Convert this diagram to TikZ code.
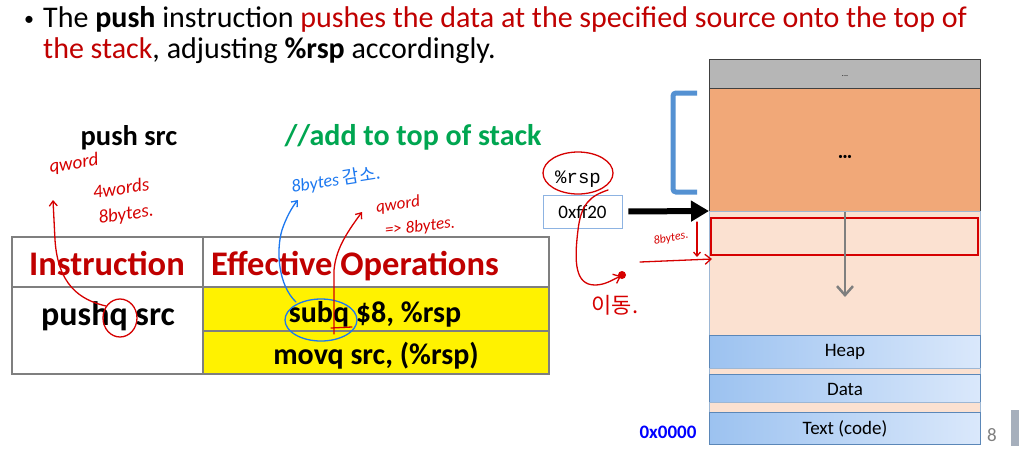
\documentclass[tikz,border=0pt]{standalone}
\usepackage{fontspec}
\setmainfont{Carlito}
\newfontfamily\monofont{Liberation Mono}
\newfontfamily\krfont{Noto Sans CJK KR}
\usetikzlibrary{arrows.meta}
\definecolor{darkred}{HTML}{C00000}
\definecolor{grn}{HTML}{00A651}
\definecolor{tgray}{HTML}{7F7F7F}
\definecolor{segorange}{HTML}{F1A878}
\definecolor{segpeach}{HTML}{FBE1D1}
\definecolor{seggray}{HTML}{B6B6B6}
\definecolor{blueL}{HTML}{9CC2F0}
\definecolor{blueR}{HTML}{DAE8FB}
\definecolor{blueedge}{HTML}{5B87B8}
\definecolor{brk}{HTML}{5491D2}
\definecolor{pen}{HTML}{D60000}
\definecolor{bluepen}{HTML}{1C78F0}
\definecolor{boxedge}{HTML}{8DB3E2}
\definecolor{barcol}{HTML}{A6AFBC}
\tikzset{
  fs/.style={font=\fontsize{#1}{#1}\selectfont},
  bfs/.style={font=\fontsize{#1}{#1}\selectfont\bfseries},
  tbl/.style={draw=tgray, line width=1.2pt},
  seg/.style={draw=black!75, line width=0.8pt},
  blueseg/.style={draw=blueedge, line width=1pt, left color=blueL, right color=blueR},
  penline/.style={draw=pen, line width=1.3pt, line cap=round, line join=round},
  bluepenline/.style={draw=bluepen, line width=1.3pt, line cap=round, line join=round},
  hand/.style={text=pen, font=\fontsize{#1}{#1}\selectfont\itshape, inner sep=0pt},
  bhand/.style={text=bluepen, font=\fontsize{#1}{#1}\selectfont\itshape, inner sep=0pt},
}
\begin{document}
\begin{tikzpicture}[x=1pt,y=-1pt]
\useasboundingbox[fill=white] (0,0) rectangle (1019,451);

% heading
\node[fs=20, anchor=base, inner sep=0pt] (bul) at (29,25) {•};
\node[fs=30, anchor=base west, inner sep=0pt] (l1) at (43,27) {The \textbf{push} instruction \textcolor{darkred}{pushes the data at the specified source onto the top of}};
\node[fs=30, anchor=base west, inner sep=0pt] (l2) at (43,58) {\textcolor{darkred}{the stack}, adjusting \textbf{\%rsp} accordingly.};

% push src line
\node[bfs=28.5, anchor=base, inner sep=0pt] (ps) at (129,145) {push src};
\node[bfs=30, anchor=base, inner sep=0pt, text=grn] (cm) at (413,145) {//add to top of stack};

% table
\draw[tbl] (12,237) rectangle (203,287);
\draw[tbl] (203,237) rectangle (549,287);
\draw[tbl] (12,287) rectangle (203,374);
\draw[tbl, fill=yellow] (203,287) rectangle (549,331);
\draw[tbl, fill=yellow] (203,331) rectangle (549,374);
\node[bfs=34.5, anchor=base, inner sep=0pt, text=darkred] (h1) at (107,275) {Instruction};
\node[bfs=34.5, anchor=base, inner sep=0pt, text=darkred] (h2) at (355,275) {Effective Operations};
\node[bfs=34, anchor=base, inner sep=0pt] (c1) at (108,325) {pushq src};
\node[bfs=30, anchor=base, inner sep=0pt] (c2) at (375,322) {subq \$8, \%rsp};
\node[bfs=30, anchor=base, inner sep=0pt] (c3) at (376,364) {movq src, (\%rsp)};

% memory column
\draw[draw=blueedge!50, line width=0.6pt] (709,59) rectangle (980,444);
\draw[seg, fill=seggray] (709,59) rectangle (980,88);
\node[fs=8, inner sep=0pt] (gdots) at (845,76) {...};
\draw[seg, fill=segorange] (709,88) rectangle (980,211);
\coordinate (orsw) at (709,211);
\node[fs=9, inner sep=0pt] (odots) at (845,157) {•••};
\draw[draw=blueedge!60, line width=0.6pt, fill=segpeach] (709,211) rectangle (980,335);
\draw[draw=pen, line width=1.6pt] (711,218) rectangle (978,255);
\coordinate (gtop) at (845,212);
\coordinate (gbot) at (845,297);
\draw[draw=tgray, line width=2.5pt, -{Straight Barb[length=9pt,width=16pt,line width=2.5pt]}] (gtop) -- (gbot);
\draw[blueseg] (709,335) rectangle (980,368);
\draw[draw=blueedge!60, line width=0.6pt, fill=segpeach] (709,368) rectangle (980,374);
\draw[blueseg] (709,374) rectangle (980,402);
\draw[draw=blueedge!60, line width=0.6pt, fill=segpeach] (709,402) rectangle (980,412);
\draw[blueseg] (709,412) rectangle (980,444);
\node[fs=19, inner sep=0pt] (heap) at (845,352) {Heap};
\node[fs=19, inner sep=0pt] (data) at (845,389) {Data};
\node[fs=19, inner sep=0pt] (text) at (845,429) {Text (code)};
\node[bfs=19, inner sep=0pt, text=blue] (addr) at (668,432) {0x0000};
\node[fs=19, inner sep=0pt, text=gray] (pg) at (992,435) {8};
\fill[barcol] (1011,410) rectangle (1019,446);

% bracket
\draw[draw=brk, line width=5pt, rounded corners=3pt] (697,93) -- (673,93) -- (673,192) -- (697,192);

% rsp
\node[font=\fontsize{19}{19}\selectfont\monofont, inner sep=0pt] (rsp) at (578,179) {\%rsp};
\node[draw=boxedge, line width=0.8pt, fill=white, minimum width=79pt, minimum height=33pt, inner sep=0pt, fs=19] (rspval) at (582.5,211.5) {0xff20};
\draw[line width=6pt, shorten <=6pt, -{Triangle[length=18pt,width=20pt]}] (rspval.east) -- (orsw);

% ---- handwritten annotations ----
% left red
\node[hand=19, rotate=8] (a1) at (74,164) {qword};
\node[hand=19, rotate=8] (a2) at (121,188) {4words};
\node[hand=19, rotate=8] (a3) at (126,215) {8bytes.};
\draw[penline] (120,318) ellipse [x radius=17, y radius=19];
\draw[penline, -{Straight Barb[length=5pt,width=8pt]}] (106,306) .. controls (80,300) and (58,285) .. (55,240) -- (53,200);

% blue middle
\node[bhand=18, rotate=9] (b1) at (336,180) {8bytes \krfont 감소.};
\draw[bluepenline] (321,320) ellipse [x radius=36, y radius=21];
\draw[bluepenline, -{Straight Barb[length=5pt,width=8pt]}] (296,302) .. controls (278,285) and (276,250) .. (282,230) .. controls (286,218) and (292,207) .. (298,200);

% red middle
\node[hand=17, rotate=8] (a4) at (398,205) {qword};
\node[hand=17, rotate=6] (a5) at (420,227) {=> 8bytes.};
\draw[penline, -{Straight Barb[length=5pt,width=8pt]}] (334,334) -- (334,270) .. controls (336,250) and (345,235) .. (362,212);
\draw[penline] (331,328) -- (352,327);

% rsp annotations
\draw[penline] (578,173) ellipse [x radius=35, y radius=21];
\draw[penline, -{Straight Barb[length=6pt,width=10pt]}] (608,190) .. controls (590,196) and (581,204) .. (578,230) .. controls (574,262) and (575,285) .. (595,285) .. controls (605,285) and (612,280) .. (621,276);
\fill[pen] (622,275) circle (4);
\node[text=pen, inner sep=0pt, font=\fontsize{22}{22}\selectfont\krfont] (mv) at (615,305) {이동.};
\node[hand=12, rotate=10] (a6) at (671,238) {8bytes.};
\draw[penline, -{Straight Barb[length=4pt,width=7pt]}] (697,222) -- (697,257);
\draw[penline, -{Straight Barb[length=6pt,width=10pt]}] (640,262) -- (712,259);
\end{tikzpicture}
\end{document}
